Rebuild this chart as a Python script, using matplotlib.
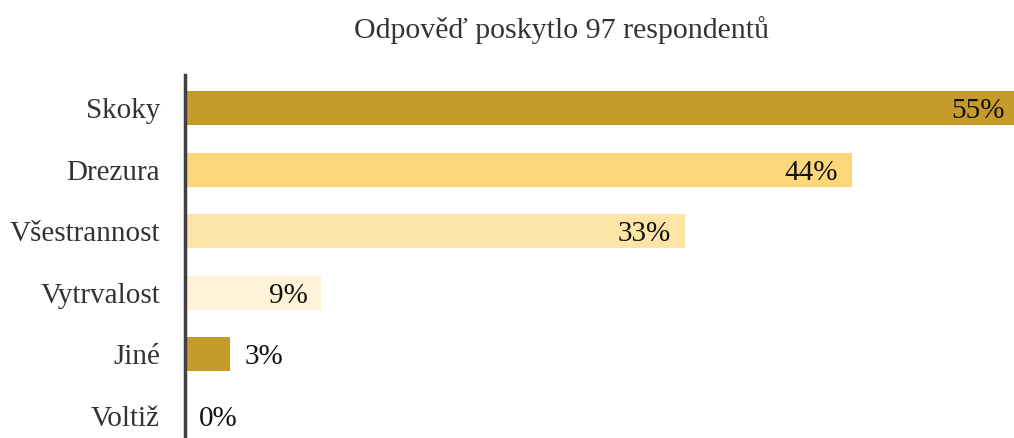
import matplotlib.pyplot as plt

categories = ['Skoky', 'Drezura', 'Všestrannost', 'Vytrvalost', 'Jiné', 'Voltiž']
values = [55, 44, 33, 9, 3, 0]
labels = ['55%', '44%', '33%', '9%', '3%', '0%']
colors = ['#C59B2C', '#FDD87B', '#FCE5A6', '#FEF2D9', '#C59B2C', '#C59B2C']
inside = [True, True, True, True, False, False]

plt.rcParams['font.family'] = ['Liberation Serif', 'DejaVu Serif']

fig = plt.figure(figsize=(10.14, 4.38), dpi=100)
ax = fig.add_axes([185 / 1014, 0, 1 - 185 / 1014, 1 - 75 / 438])

pos = list(range(len(categories)))
ax.barh(pos, values, height=0.55, color=colors)
ax.set_xlim(0, 54.7)
ax.set_ylim(5.36, -0.54)

# percentage labels: inside the bar end for long bars, outside for short ones
for p, v, lab, ins in zip(pos, values, labels, inside):
    if ins:
        ax.annotate(lab, (v, p), xytext=(-10, -2), textcoords='offset points',
                    ha='right', va='center', fontsize=21, color='#111111',
                    annotation_clip=False)
    else:
        ax.annotate(lab, (v, p), xytext=(10, -2), textcoords='offset points',
                    ha='left', va='center', fontsize=21, color='#111111',
                    annotation_clip=False)

ax.set_yticks(pos)
ax.set_yticklabels(categories, fontsize=21, color='#333333')
ax.tick_params(axis='y', length=0, pad=18)
ax.set_xticks([])
for s in ['top', 'right', 'bottom']:
    ax.spines[s].set_visible(False)
ax.spines['left'].set_linewidth(2.5)
ax.spines['left'].set_color('#404040')

fig.text(562 / 1014, 1 - 30 / 438, 'Odpověď poskytlo 97 respondentů',
         ha='center', va='center', fontsize=21.5, color='#333333')

fig.savefig('out.png', dpi=100)
